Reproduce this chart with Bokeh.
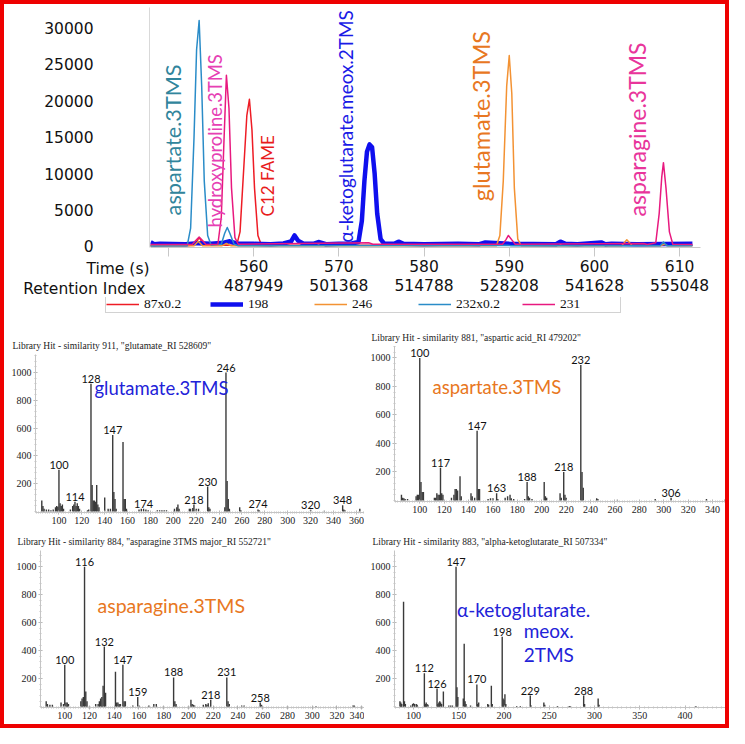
from math import pi
from bokeh.plotting import figure
from bokeh.layouts import column, row
from bokeh.models import (Legend, LegendItem, FixedTicker, Range1d)
from bokeh.core.properties import value
from bokeh.embed import file_html
from bokeh.resources import INLINE

# ---------------- chromatogram data (time s, intensity) ----------------
trace_87 = [(547.8, 100), (553.0, 150), (553.6, 1200), (554.2, 150), (558.0, 150),
            (558.4, 2000), (558.8, 10000), (559.2, 18000), (559.5, 20200), (559.8, 16000),
            (560.1, 8000), (560.5, 1500), (560.9, 200), (605.6, 150), (606.0, 400),
            (606.4, 150), (611.5, 150)]
trace_198 = [(547.9, 600), (548.3, 300), (549.0, 350), (552.0, 300), (553.5, 450),
             (555.0, 350), (556.5, 500), (557.2, 700), (558.0, 400), (560.0, 350),
             (562.0, 300), (563.5, 400), (564.4, 700), (564.8, 1500), (565.2, 800),
             (565.8, 400), (567.0, 350), (567.6, 600), (568.5, 300), (570.0, 350),
             (571.5, 400), (572.3, 600), (572.7, 3500), (573.0, 9000), (573.3, 13000),
             (573.6, 14000), (573.9, 13600), (574.2, 10000), (574.5, 4500), (574.9, 1000),
             (575.3, 400), (576.5, 350), (577.0, 650), (577.6, 350), (580.0, 300),
             (584.0, 350), (586.5, 300), (587.2, 550), (590.0, 350), (595.5, 300),
             (596.0, 650), (596.6, 350), (598.0, 300), (600.8, 550), (601.3, 300),
             (602.0, 350), (605.0, 300), (611.5, 350)]
trace_246 = [(547.8, 80), (553.0, 100), (553.5, 700), (554.0, 100), (556.3, 100),
             (556.8, 400), (557.3, 100), (588.5, 100), (588.9, 1500), (589.3, 9000),
             (589.7, 22000), (590.0, 26200), (590.3, 21000), (590.6, 8000), (591.0, 1000),
             (591.4, 100), (603.2, 100), (603.8, 900), (604.4, 150), (607.8, 100),
             (608.2, 300), (608.6, 100), (611.5, 100)]
trace_232 = [(547.8, 50), (552.2, 100), (552.6, 2500), (553.0, 15000), (553.3, 27000),
             (553.6, 31000), (553.9, 22000), (554.2, 9000), (554.6, 1500), (555.0, 200),
             (556.2, 300), (556.6, 1800), (556.9, 2600), (557.2, 1800), (557.7, 300),
             (558.2, 100), (589.8, 150), (590.2, 100), (607.7, 100), (608.1, 600),
             (608.5, 100), (611.5, 80)]
trace_231 = [(547.8, 250), (552.8, 250), (553.2, 800), (553.6, 1300), (554.0, 800),
             (554.4, 250), (555.8, 300), (556.2, 4000), (556.5, 14000), (556.8, 23500),
             (557.1, 19000), (557.4, 8000), (557.8, 1200), (558.2, 300), (573.5, 500),
             (574.0, 300), (589.2, 300), (589.6, 900), (589.9, 1500), (590.3, 900),
             (590.7, 300), (605.8, 400), (606.2, 250), (607.2, 500), (607.6, 4500),
             (607.9, 9500), (608.1, 11500), (608.4, 8000), (608.8, 2000), (609.2, 300),
             (611.5, 250)]
traces = [trace_87, trace_198, trace_246, trace_232, trace_231]

series_names = ["87x0.2", "198", "246", "232x0.2", "231"]
series_colors = ["#ee1c25", "#0f0fee", "#f39233", "#2a8cc8", "#e8197f"]
series_widths = [1.5, 4.5, 1.5, 1.5, 1.5]

time_ticks = [550, 560, 570, 580, 590, 600, 610]
time_labels = ["", "560", "570", "580", "590", "600", "610"]
ri_labels = ["", "487949", "501368", "514788", "528208", "541628", "555048"]
int_ticks = [0, 5000, 10000, 15000, 20000, 25000, 30000]
x_titles = ["Time (s)", "Retention Index"]

# peak annotations: (time, intensity, text, colour, font size)
peak_notes = [(550.5, 4260, "aspartate.3TMS", "#31859c", "21.7px"),
              (555.42, 2610, "hydroxyproline.3TMS", "#e640b4", "18.4px"),
              (561.64, 4120, "C12 FAME", "#e81c1c", "17px"),
              (570.83, 550, "\u03b1-ketoglutarate.meox.2TMS", "#1a1ae6", "18.9px"),
              (586.67, 6200, "glutamate.3TMS", "#e87722", "23.5px"),
              (605.05, 4120, "asparagine.3TMS", "#e8359b", "23px")]

# ---------------- library spectra (m/z, relative intensity) ----------------
glu_peaks = [(85, 80), (86, 40), (87, 20), (89, 15), (91, 15), (93, 10), (95, 15), (97, 30),
             (98, 40), (99, 35), (100, 300), (101, 60), (102, 40), (103, 50), (104, 20),
             (110, 15), (112, 40), (113, 50), (114, 70), (115, 40), (116, 60), (117, 40),
             (118, 20), (125, 10), (126, 15), (128, 920), (129, 190), (130, 80), (131, 80),
             (132, 70), (133, 190), (134, 50), (135, 30), (140, 100), (143, 20), (145, 20),
             (147, 550), (148, 140), (149, 90), (150, 20), (156, 500), (157, 90), (158, 90),
             (159, 20), (170, 15), (172, 20), (174, 20), (176, 15), (178, 10), (186, 10),
             (188, 10), (190, 10), (192, 10), (194, 10), (201, 20), (203, 30), (204, 50),
             (205, 20), (214, 20), (215, 20), (217, 25), (218, 50), (220, 20), (222, 20),
             (230, 180), (231, 30), (232, 20), (245, 30), (246, 1000), (247, 220), (248, 90),
             (249, 20), (258, 30), (259, 10), (274, 15), (275, 10), (320, 12), (332, 5),
             (348, 45), (349, 15), (350, 10), (363, 20)]
glu_labels = [100, 114, 128, 147, 174, 218, 230, 246, 274, 320, 348]

asp_peaks = [(85, 40), (86, 20), (87, 15), (88, 10), (90, 10), (97, 30), (98, 40), (99, 40),
             (100, 1000), (101, 130), (102, 60), (103, 60), (112, 20), (113, 20), (114, 50),
             (115, 40), (116, 40), (117, 230), (118, 50), (119, 40), (126, 20), (128, 40),
             (129, 80), (130, 80), (131, 70), (133, 170), (134, 30), (142, 50), (143, 30),
             (145, 20), (147, 490), (148, 80), (149, 80), (156, 10), (158, 15), (160, 15),
             (163, 50), (164, 10), (170, 20), (172, 30), (174, 40), (175, 15), (177, 10),
             (186, 10), (188, 130), (189, 30), (190, 20), (192, 10), (202, 130), (203, 30),
             (204, 20), (215, 50), (216, 20), (218, 200), (219, 40), (220, 20), (232, 950),
             (233, 200), (234, 90), (245, 15), (246, 10), (262, 5), (293, 10), (306, 20),
             (335, 10), (350, 5)]
asp_labels = [100, 117, 147, 163, 188, 218, 232, 306]

asn_peaks = [(85, 40), (86, 20), (88, 15), (90, 15), (97, 30), (99, 20), (100, 300), (101, 30),
             (102, 30), (103, 20), (113, 40), (114, 60), (115, 70), (116, 1000), (117, 110),
             (118, 40), (125, 20), (127, 20), (128, 40), (129, 60), (130, 70), (131, 150),
             (132, 430), (133, 100), (141, 250), (142, 30), (143, 30), (144, 20), (145, 20),
             (147, 300), (148, 40), (149, 40), (155, 10), (159, 70), (160, 10), (168, 10),
             (172, 20), (174, 20), (188, 210), (189, 40), (190, 20), (202, 50), (203, 20),
             (204, 15), (205, 10), (212, 15), (214, 20), (215, 15), (216, 25), (218, 50),
             (231, 210), (232, 40), (233, 20), (243, 10), (245, 10), (258, 30), (259, 15),
             (303, 5), (333, 10), (334, 10)]
asn_labels = [100, 116, 132, 147, 159, 188, 218, 231, 258]

akg_peaks = [(85, 40), (86, 30), (87, 20), (89, 750), (90, 40), (91, 20), (97, 10), (99, 20),
             (100, 25), (101, 20), (103, 20), (104, 15), (112, 240), (113, 20), (114, 30),
             (115, 20), (116, 15), (126, 130), (127, 20), (128, 30), (129, 40), (130, 30),
             (131, 20), (133, 110), (139, 10), (141, 10), (143, 10), (147, 1000), (148, 140),
             (149, 70), (155, 60), (156, 450), (157, 40), (158, 20), (163, 10), (170, 160),
             (171, 20), (172, 30), (182, 20), (183, 15), (186, 150), (187, 20), (198, 500),
             (199, 60), (200, 50), (201, 90), (202, 20), (214, 5), (218, 5), (229, 80),
             (230, 10), (244, 30), (245, 15), (259, 5), (272, 5), (273, 5), (288, 80),
             (289, 20), (304, 60), (305, 15), (412, 5)]
akg_labels = [112, 126, 147, 170, 198, 229, 288]

spec_yticks = [200, 400, 600, 800, 1000]
mz_ticks_20 = list(range(100, 361, 20))
mz_ticks_50 = list(range(100, 401, 50))

SANS = "DejaVu Sans"
CAL = "Lato"
SERIF = "Liberation Serif"


def bare(fig):
    fig.outline_line_color = None
    fig.xgrid.grid_line_color = None
    fig.ygrid.grid_line_color = None
    return fig


y_range_top = Range1d(-150, 32800)

# ---------- left strip: intensity axis ----------
fy = bare(figure(width=146, height=253, x_range=Range1d(0, 1), y_range=y_range_top,
                 output_backend="svg", toolbar_location=None, x_axis_location=None,
                 min_border_left=145, min_border_right=0, min_border_top=3,
                 min_border_bottom=10))
yax = fy.yaxis[0]
yax.ticker = FixedTicker(ticks=int_ticks)
yax.axis_line_color = "#d9d9d9"
yax.major_tick_line_color = None
yax.minor_tick_line_color = None
yax.major_label_standoff = 50
yax.major_label_text_font = SANS
yax.major_label_text_font_size = "15.5px"
yax.major_label_text_color = "#111111"

# ---------- left strip: x-axis titles ----------
ft = bare(figure(width=146, height=40, x_range=Range1d(0, 146), y_range=Range1d(0, 40),
                 output_backend="svg", toolbar_location=None, x_axis_location=None,
                 y_axis_location=None, min_border=0))
ft.text(x=[145, 141], y=[29, 9], text=x_titles, text_align="right", text_baseline="middle",
        text_font=value(SANS), text_font_size="15.5px", text_color="#111111")

# ---------- chromatogram ----------
p = bare(figure(width=575, height=293, x_range=Range1d(547.89, 612.45), y_range=y_range_top,
                output_backend="svg", toolbar_location=None, y_axis_location=None,
                min_border_left=0, min_border_right=25, min_border_top=3,
                min_border_bottom=50))
for trace, col, lw in zip(traces, series_colors, series_widths):
    p.line([a for a, b in trace], [b for a, b in trace], line_color=col, line_width=lw,
           line_join="round")

xax = p.xaxis[0]
xax.ticker = FixedTicker(ticks=time_ticks)
xax.major_label_overrides = {t: (a + "\n" + b if a else "")
                             for t, a, b in zip(time_ticks, time_labels, ri_labels)}
xax.axis_line_color = "#c8c8c8"
xax.major_tick_line_color = "#c8c8c8"
xax.major_tick_in = 0
xax.major_tick_out = 9
xax.minor_tick_line_color = None
xax.major_label_standoff = 1
xax.major_label_text_font = SANS
xax.major_label_text_font_size = "15.5px"
xax.major_label_text_color = "#111111"
xax.major_label_text_line_height = 1.08

for tx, ty, txt, col, fs in peak_notes:
    p.text(x=[tx], y=[ty], text=[txt], angle=pi / 2, text_align="left",
           text_baseline="middle", text_color=col, text_font=value(CAL),
           text_font_size=fs)

# ---------- legend strip (same series, drawn outside its visible ranges) ----------
fl = bare(figure(width=721, height=28, x_range=Range1d(0, 1), y_range=Range1d(0, 1),
                 output_backend="svg", toolbar_location=None, x_axis_location=None,
                 y_axis_location=None, min_border=0))
proxies = [fl.line([a for a, b in trace], [b for a, b in trace], line_color=c, line_width=w)
           for trace, c, w in zip(traces, series_colors, series_widths)]
legend = Legend(items=[LegendItem(label=n, renderers=[r]) for n, r in zip(series_names, proxies)],
                orientation="horizontal", location=(101, 12))
legend.label_text_font = SERIF
legend.label_text_font_size = "13.5px"
legend.label_text_color = "#111111"
legend.glyph_width = 33
legend.glyph_height = 12
legend.label_height = 12
legend.label_width = 60
legend.label_standoff = 5
legend.spacing = 6
legend.padding = 0
legend.margin = 0
legend.border_line_color = "#a6a6a6"
legend.background_fill_alpha = 1
fl.add_layout(legend)


# ======================= spectra =======================
def spectrum(width, height, peaks, labels, xr, yr, borders, title, title_offset,
             name_lines, name_color, name_size, xticks, minor_step):
    bl, br, bt, bb = borders
    s = bare(figure(width=width, height=height, x_range=Range1d(*xr), y_range=Range1d(*yr),
                    output_backend="svg", toolbar_location=None, min_border_left=bl,
                    min_border_right=br, min_border_top=bt, min_border_bottom=bb))
    mz = [a for a, b in peaks]
    inten = [b for a, b in peaks]
    s.segment(x0=mz, y0=[0] * len(mz), x1=mz, y1=inten, line_color="#3a3a3a",
              line_width=1.4)
    lookup = dict(peaks)
    s.text(x=labels, y=[lookup[m] for m in labels], text=[str(m) for m in labels],
           text_align="center", text_baseline="bottom", y_offset=-1,
           text_font=value(CAL), text_font_size="11px", text_color="#111111")
    for (nx, ny), line in zip(name_lines[0], name_lines[1]):
        s.text(x=[nx], y=[ny], text=[line], text_align="left", text_baseline="middle",
               text_font=value(CAL), text_font_size=name_size, text_color=name_color)
    s.title.text = title
    s.title.align = "left"
    s.title.offset = title_offset
    s.title.standoff = 8
    s.title.text_font = SERIF
    s.title.text_font_size = "9.5px"
    s.title.text_font_style = "normal"
    s.title.text_color = "#222222"
    for ax in (s.xaxis[0], s.yaxis[0]):
        ax.axis_line_color = "#c4c4c4"
        ax.major_tick_line_color = "#b0b0b0"
        ax.minor_tick_line_color = "#c4c4c4"
        ax.major_tick_in = 2
        ax.major_tick_out = 2
        ax.minor_tick_in = 1
        ax.minor_tick_out = 1
        ax.major_label_text_font = SERIF
        ax.major_label_text_font_size = "10px"
        ax.major_label_text_color = "#222222"
        ax.major_label_standoff = 2
    s.xaxis[0].ticker = FixedTicker(
        ticks=xticks, minor_ticks=[v for v in range(int(xr[0]) + 1, int(xr[1]) + 1, minor_step)])
    s.yaxis[0].ticker = FixedTicker(ticks=spec_yticks,
                                    minor_ticks=[v for v in range(0, 1140, 40)])
    return s


s1 = spectrum(360, 204, glu_peaks, glu_labels, (79.5, 367.1), (-7, 1129.5),
              (31, 0, 29, 17), 'Library Hit - similarity 911, "glutamate_RI 528609"',
              -23, ([(131, 885)], ["glutamate.3TMS"]), "#2222d8", "18.5px", mz_ticks_20, 2)
s2 = spectrum(361, 204, asp_peaks, asp_labels, (79.3, 350.6), (-7, 1080),
              (30, 0, 21, 28), 'Library Hit - similarity 881, "aspartic acid_RI 479202"',
              -23, ([(110.4, 793)], ["aspartate.3TMS"]), "#e87722", "18.5px", mz_ticks_20, 2)
s3 = spectrum(360, 195, asn_peaks, asn_labels, (80.4, 342.3), (-5, 1116),
              (36, 0, 21, 17), 'Library Hit - similarity 884, "asparagine 3TMS major_RI 552721"',
              -23, ([(126.5, 721)], ["asparagine.3TMS"]), "#e87722", "19.5px", mz_ticks_20, 2)
s4 = spectrum(361, 195, akg_peaks, akg_labels, (79.0, 444.7), (-5, 1116),
              (30, 0, 21, 17), 'Library Hit - similarity 883, "alpha-ketoglutarate_RI 507334"',
              -22, ([(148.1, 695), (221.7, 543), (221.7, 376)],
                    ["\u03b1-ketoglutarate.", "meox.", "2TMS"]), "#2222d8", "19px",
              mz_ticks_50, 5)

top = row(column(column(fy), column(ft)), column(p))
layout = column(top, column(fl),
                row(column(s1), column(s2)), row(column(s3), column(s4)),
                styles={"border": "4px solid #ee0000", "background": "white"})

open("out.html", "w").write(file_html(layout, INLINE))
